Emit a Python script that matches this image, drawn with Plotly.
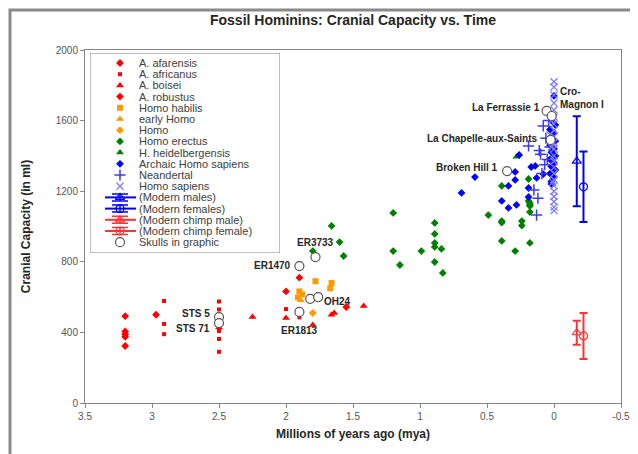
import plotly.graph_objects as go

# ---------------- data ----------------
afarensis_x = [3.2, 3.2, 3.2, 3.2, 3.2, 2.97]
afarensis_y = [492, 405, 390, 375, 323, 500]

africanus_x = [2.91, 2.91, 2.91, 2.5, 2.5, 2.5, 2.5, 2.5, 2.0, 1.9]
africanus_y = [578, 448, 390, 575, 530, 408, 363, 290, 532, 485]

boisei_x = [2.5, 2.25, 2.0, 1.8, 1.66, 1.64, 1.42]
boisei_y = [428, 487, 482, 442, 500, 510, 550]

robustus_x = [2.0, 1.9, 1.55]
robustus_y = [632, 710, 544]

habilis_x = [1.78, 1.66, 1.67, 1.90, 1.88, 1.91]
habilis_y = [690, 680, 650, 632, 615, 598]

early_homo_x = [1.89]
early_homo_y = [582]

homo_x = [1.8]
homo_y = [510]

erectus_x = [1.80, 1.66, 1.60, 1.57, 1.20, 1.20, 1.15, 0.99, 0.89, 0.89, 0.89, 0.89,
             0.89, 0.84, 0.83, 0.49, 0.39, 0.39, 0.39, 0.29, 0.24, 0.24, 0.18, 0.18,
             0.18, 0.18, 0.39, 0.19, 0.19, 0.18]
erectus_y = [861, 1003, 912, 833, 1077, 861, 782, 861, 1020, 958, 907, 884,
             799, 873, 737, 1065, 1031, 1022, 918, 861, 1031, 1005, 1133, 1116,
             1082, 907, 1230, 1269, 1145, 1122]

heidel_x = [0.28]
heidel_y = [1395]

archaic_x = [0.69, 0.59, 0.26, 0.29, 0.29, 0.34, 0.39, 0.34, 0.28, 0.19, 0.17, 0.14,
             0.19, 0.13, 0.08, 0.02,
             0.0, 0.02, -0.01, 0.03, 0.0, 0.02, -0.01, 0.03, 0.0, 0.02, -0.01,
             0.03, 0.0, 0.02, -0.01, 0.03, 0.0, 0.02, 0.01]
archaic_y = [1190, 1280, 1405, 1309, 1264, 1230, 1145, 1105, 1122, 1167, 1337, 1343,
             1218, 1275, 1297, 1241,
             1740, 1600, 1575, 1550, 1530, 1510, 1485, 1460, 1440, 1420, 1400,
             1380, 1360, 1340, 1320, 1300, 1280, 1255, 1620]

neander_x = [0.19, 0.11, 0.10, 0.08, 0.06, 0.15, 0.13, 0.05, 0.07, 0.12, 0.04, 0.03, 0.09]
neander_y = [1456, 1430, 1410, 1570, 1500, 1207, 1065, 1380, 1350, 1160, 1600, 1450, 1300]

sapiens_x = [0.0, 0.0, 0.0, 0.0, 0.0, 0.0, 0.0, 0.0, 0.0, 0.0, 0.0, 0.0, 0.0, 0.0,
             0.0, 0.0, 0.0, 0.0, 0.0, 0.0, 0.0, 0.0, 0.02, 0.03, 0.02, 0.05, 0.01]
sapiens_y = [1820, 1790, 1745, 1700, 1660, 1620, 1580, 1545, 1510, 1475, 1440, 1400,
             1370, 1335, 1300, 1265, 1230, 1200, 1170, 1140, 1110, 1090, 1600, 1520,
             1450, 1650, 1250]

male_x, male_y, male_err = [-0.17], [1370], [255]
female_x, female_y, female_err = [-0.22], [1225], [200]
chimp_m_x, chimp_m_y, chimp_m_err = [-0.17], [398], [68]
chimp_f_x, chimp_f_y, chimp_f_err = [-0.22], [380], [130]

skull_x = [2.5, 2.5, 1.9, 1.78, 1.82, 1.76, 1.9, 0.35, 0.025, 0.055, 0.017]
skull_y = [487, 453, 776, 827, 590, 600, 516, 1314, 1490, 1655, 1626]
skull_names = ["STS 5", "STS 71", "ER1470", "ER3733", "", "OH24", "ER1813",
               "Broken Hill 1", "La Chapelle-aux-Saints", "La Ferrassie 1", "Cro-<br>Magnon I"]

x_tickvals = [3.5, 3, 2.5, 2, 1.5, 1, 0.5, 0, -0.5]
x_ticktext = ["3.5", "3", "2.5", "2", "1.5", "1", "0.5", "0", "-0.5"]
y_tickvals = [0, 400, 800, 1200, 1600, 2000]

# ---------------- styles ----------------
FONT = "Liberation Sans, Arial, sans-serif"
RED, ORANGE, GREEN, BLUE = "#ff0000", "#ff9900", "#008000", "#0000ff"

series = [
    ("A. afarensis", afarensis_x, afarensis_y, dict(symbol="diamond", size=6, color=RED), None),
    ("A. africanus", africanus_x, africanus_y, dict(symbol="square", size=4, color=RED), None),
    ("A. boisei", boisei_x, boisei_y, dict(symbol="triangle-up", size=7, color=RED), None),
    ("A. robustus", robustus_x, robustus_y, dict(symbol="diamond", size=6, color=RED), None),
    ("Homo habilis", habilis_x, habilis_y, dict(symbol="square", size=6, color=ORANGE), None),
    ("early Homo", early_homo_x, early_homo_y, dict(symbol="triangle-up", size=7, color=ORANGE), None),
    ("Homo", homo_x, homo_y, dict(symbol="diamond", size=6, color=ORANGE), None),
    ("Homo erectus", erectus_x, erectus_y, dict(symbol="diamond", size=6, color=GREEN), None),
    ("H. heidelbergensis", heidel_x, heidel_y, dict(symbol="triangle-up", size=7, color=GREEN), None),
    ("Archaic Homo sapiens", archaic_x, archaic_y, dict(symbol="diamond", size=6, color=BLUE), None),
    ("Neandertal", neander_x, neander_y,
     dict(symbol="cross-thin", size=8, color="#3a3aff", line=dict(width=1.5, color="#3a3aff")), None),
    ("Homo sapiens", sapiens_x, sapiens_y,
     dict(symbol="x-thin", size=7, color="#7b7bff", line=dict(width=1.3, color="#7b7bff")), None),
    ("(Modern males)", male_x, male_y,
     dict(symbol="triangle-up-open", size=8, color=BLUE, line=dict(width=1.2, color=BLUE)), (male_err, BLUE)),
    ("(Modern females)", female_x, female_y,
     dict(symbol="circle-open", size=8, color=BLUE, line=dict(width=1.2, color=BLUE)), (female_err, BLUE)),
    ("(Modern chimp male)", chimp_m_x, chimp_m_y,
     dict(symbol="triangle-up-open", size=8, color="#ff3333", line=dict(width=1.2, color="#ff3333")), (chimp_m_err, "#ff3333")),
    ("(Modern chimp female)", chimp_f_x, chimp_f_y,
     dict(symbol="circle-open", size=8, color="#ff3333", line=dict(width=1.2, color="#ff3333")), (chimp_f_err, "#ff3333")),
    ("Skulls in graphic", skull_x, skull_y,
     dict(symbol="circle", size=9, color="white", line=dict(width=1.2, color="#555555")), None),
]

fig = go.Figure()

# main data traces
for name, xs, ys, mk, err in series:
    kw = {}
    if err is not None:
        kw["error_y"] = dict(type="data", array=err[0], visible=True, color=err[1],
                             thickness=2, width=4)
    fig.add_trace(go.Scatter(x=xs, y=ys, mode="markers", name=name, marker=mk,
                             showlegend=False, hoverinfo="skip", xaxis="x", yaxis="y", **kw))

# ---- manual legend drawn on a hidden secondary axis (pixel-like units) ----
PLOT_L, PLOT_R, PLOT_T, PLOT_B = 77, 613, 42, 395
W, H = 638, 454
BOX_L, BOX_R, BOX_T, BOX_B = 82, 272, 45, 245
pw, ph = PLOT_R - PLOT_L, PLOT_B - PLOT_T
step = 11.2
for i, (name, xs, ys, mk, err) in enumerate(series):
    yy = 10 + step * i
    if err is not None:
        fig.add_trace(go.Scatter(x=[15, 46], y=[yy, yy], mode="lines",
                                 line=dict(color=err[1], width=2), showlegend=False,
                                 hoverinfo="skip", xaxis="x2", yaxis="y2"))
        fig.add_trace(go.Scatter(x=[30], y=[yy], mode="markers", marker=mk, showlegend=False,
                                 hoverinfo="skip", xaxis="x2", yaxis="y2",
                                 error_y=dict(type="constant", value=3.5, color=err[1],
                                              thickness=1.5, width=8)))
    else:
        fig.add_trace(go.Scatter(x=[30], y=[yy], mode="markers", marker=mk, showlegend=False,
                                 hoverinfo="skip", xaxis="x2", yaxis="y2"))
    fig.add_annotation(x=47, y=yy, xref="x2", yref="y2", text=name, showarrow=False,
                       xanchor="left", yanchor="middle",
                       font=dict(family=FONT, size=11, color="#404040"))

fig.add_shape(type="rect", xref="x2", yref="y2", x0=0, x1=BOX_R - BOX_L, y0=0, y1=BOX_B - BOX_T,
              line=dict(color="#7f7f7f", width=1), fillcolor="white", layer="below")

# ---- skull labels ----
label_pos = {
    "STS 5": dict(xanchor="right", xshift=-7, yshift=4),
    "STS 71": dict(xanchor="right", xshift=-7, yshift=-5),
    "ER1470": dict(xanchor="right", xshift=-6, yshift=1),
    "ER3733": dict(xanchor="center", xshift=0, yshift=15),
    "OH24": dict(xanchor="left", xshift=4, yshift=-4),
    "ER1813": dict(xanchor="center", xshift=0, yshift=-19),
    "Broken Hill 1": dict(xanchor="right", xshift=-7, yshift=4),
    "La Chapelle-aux-Saints": dict(xanchor="right", xshift=-12, yshift=2),
    "La Ferrassie 1": dict(xanchor="right", xshift=-5, yshift=3),
    "Cro-<br>Magnon I": dict(xanchor="left", xshift=6, yshift=18),
}
for xs, ys, nm in zip(skull_x, skull_y, skull_names):
    if not nm:
        continue
    p = label_pos[nm]
    fig.add_annotation(x=xs, y=ys, xref="x", yref="y", text="<b>" + nm + "</b>",
                       showarrow=False, xanchor=p["xanchor"], yanchor="middle",
                       align="left", xshift=p["xshift"], yshift=p["yshift"],
                       font=dict(family=FONT, size=10, color="#262626"))

# ---- outer frame ----
fig.add_shape(type="rect", xref="paper", yref="paper",
              x0=(2 - PLOT_L) / pw, x1=(W - 3 - PLOT_L) / pw,
              y0=(PLOT_B - (H - 3)) / ph, y1=(PLOT_B - 2) / ph,
              line=dict(color="#8a8a8a", width=3), fillcolor="rgba(0,0,0,0)", layer="above")

axis_common = dict(showgrid=False, zeroline=False, showline=True, linecolor="#868686",
                   linewidth=1, ticks="outside", ticklen=4, tickcolor="#868686",
                   tickfont=dict(family=FONT, size=10, color="#555555"), mirror=True)

fig.update_layout(
    width=W, height=H,
    margin=dict(l=PLOT_L, r=W - PLOT_R, t=PLOT_T, b=H - PLOT_B),
    paper_bgcolor="white", plot_bgcolor="white",
    showlegend=False,
    title=dict(text="<b>Fossil Hominins: Cranial Capacity vs. Time</b>", x=0.5, xref="paper",
               y=1 - 12 / H, yref="container", yanchor="middle",
               font=dict(family=FONT, size=14, color="#262626")),
    xaxis=dict(range=[3.5, -0.5], tickvals=x_tickvals, ticktext=x_ticktext,
               title=dict(text="<b>Millions of years ago (mya)</b>", standoff=8,
                          font=dict(family=FONT, size=12, color="#262626")),
               **axis_common),
    yaxis=dict(range=[0, 2000], tickvals=y_tickvals,
               title=dict(text="<b>Cranial Capacity (in ml)</b>", standoff=22,
                          font=dict(family=FONT, size=12, color="#262626")),
               **axis_common),
    xaxis2=dict(domain=[(BOX_L - PLOT_L) / pw, (BOX_R - PLOT_L) / pw], range=[0, BOX_R - BOX_L],
                anchor="y2", visible=False, fixedrange=True),
    yaxis2=dict(domain=[(PLOT_B - BOX_B) / ph, (PLOT_B - BOX_T) / ph], range=[BOX_B - BOX_T, 0],
                anchor="x2", visible=False, fixedrange=True),
)

fig.write_html("out.html", config={"displayModeBar": False})
